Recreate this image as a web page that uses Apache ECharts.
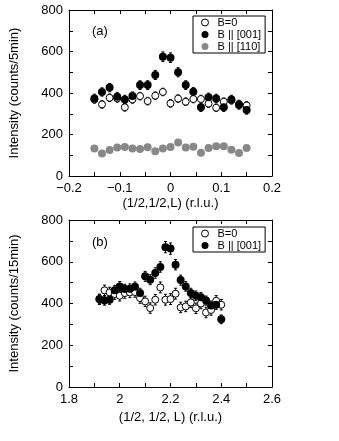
<!DOCTYPE html>
<html><head><meta charset="utf-8">
<script src="https://cdn.jsdelivr.net/npm/echarts@6/dist/echarts.min.js"></script>
<style>html,body{margin:0;padding:0;background:#fff}#c{width:339px;height:441px}</style>
</head><body><div id="c"></div>
<script>
// Panel (a)
var xA = [-0.15,-0.135,-0.12,-0.105,-0.09,-0.075,-0.06,-0.045,-0.03,-0.015,0,0.015,0.03,0.045,0.06,0.075,0.09,0.105,0.12,0.135,0.15];
var a_B0 = [369,345,377,374,331,369,385,361,387,405,350,373,358,371,371,349,329,358,365,347,340];
var a_B0_err = [18,18,18,18,18,18,18,18,18,18,18,18,18,18,18,18,18,18,18,18,18];
var a_B001 = [374,405,426,382,369,385,438,438,487,575,570,500,438,406,331,379,374,331,369,342,318];
var a_B001_err = [20,20,20,20,20,20,21,21,22,23,23,22,21,20,20,20,20,20,20,20,20];
var a_B110 = [133,109,125,137,140,133,130,138,119,133,140,161,137,141,112,135,143,143,127,111,135];
// Panel (b)
var xB = [1.92,1.94,1.96,1.98,2.00,2.02,2.04,2.06,2.08,2.10,2.12,2.14,2.16,2.18,2.20,2.22,2.24,2.26,2.28,2.30,2.32,2.34,2.36,2.38,2.40];
var b_B0 = [420,463,453,445,437,450,453,455,426,410,378,418,477,418,421,447,381,386,405,377,400,357,369,413,394];
var b_B0_err = [25,25,25,25,25,25,25,25,25,25,25,25,26,26,26,26,25,25,25,25,25,25,25,25,25];
var b_B001 = [421,414,418,464,482,469,471,480,450,530,514,546,575,670,663,586,512,482,450,437,430,414,390,394,324];
var b_B001_err = [22,22,22,23,23,23,23,23,23,24,24,25,25,27,27,25,24,23,23,23,23,22,22,22,21];

function zip(xs, ys, es){ return xs.map(function(x,i){ return es ? [x, ys[i], es[i]] : [x, ys[i]]; }); }

function errSeries(xi, yi, data){
  return {
    type:'custom', xAxisIndex:xi, yAxisIndex:yi, silent:true, z:2,
    renderItem:function(params, api){
      var x = api.value(0), y = api.value(1), e = api.value(2);
      var p1 = api.coord([x, y - e]), p2 = api.coord([x, y + e]);
      var c = 1.5;
      return {type:'group', children:[
        {type:'line', shape:{x1:p1[0],y1:p1[1],x2:p2[0],y2:p2[1]}, style:{stroke:'#000',lineWidth:1}},
        {type:'line', shape:{x1:p1[0]-c,y1:p1[1],x2:p1[0]+c,y2:p1[1]}, style:{stroke:'#000',lineWidth:1}},
        {type:'line', shape:{x1:p2[0]-c,y1:p2[1],x2:p2[0]+c,y2:p2[1]}, style:{stroke:'#000',lineWidth:1}}
      ]};
    },
    data:data
  };
}

var font = 'Liberation Sans, Arial, Helvetica, sans-serif';
function xAxisDef(gi, min, max, interval, pos, showLabel, name, fmt, gap){
  return {
    type:'value', gridIndex:gi, position:pos, min:min, max:max, interval:interval,
    axisLine:{show:true, onZero:false, lineStyle:{color:'#000', width:1}},
    axisTick:{show:true, inside:true, length:4, lineStyle:{color:'#000'}},
    minorTick:{show:true, splitNumber:2, length:4, lineStyle:{color:'#000'}},
    splitLine:{show:false},
    axisLabel:{show:showLabel, color:'#000', fontSize:13, fontFamily:font, margin:6, formatter:fmt},
    name: name || '', nameLocation:'middle', nameGap:gap || 21,
    nameTextStyle:{color:'#000', fontSize:13, fontFamily:font}
  };
}
function yAxisDef(gi, pos, showLabel, name){
  return {
    type:'value', gridIndex:gi, position:pos, min:0, max:800, interval:200,
    axisLine:{show:true, onZero:false, lineStyle:{color:'#000', width:1}},
    axisTick:{show:true, inside:true, length:4, lineStyle:{color:'#000'}},
    minorTick:{show:true, splitNumber:2, length:4, lineStyle:{color:'#000'}},
    splitLine:{show:false},
    axisLabel:{show:showLabel, color:'#000', fontSize:13, fontFamily:font, margin:6},
    name: name || '', nameLocation:'middle', nameGap:48, nameRotate:90,
    nameTextStyle:{color:'#000', fontSize:13, fontFamily:font}
  };
}
var fmtA = function(v){ var r = Math.round(v*100)/100; if (Math.abs(Math.round(r*10) - r*10) > 1e-6) return ''; return (r<0?'\u2212':'') + Math.abs(r).toString(); };
var fmtB = function(v){ var r = Math.round(v*10)/10; return r.toString(); };

var openStyle = {color:'#fff', borderColor:'#000', borderWidth:1, opacity:1};
var legendText = {fontSize:11, fontFamily:font, color:'#000', padding:[0,0,0,4], lineHeight:11};

var chart = echarts.init(document.getElementById('c'), null, {renderer:'canvas'});
chart.setOption({
  animation:false,
  backgroundColor:'#fff',
  grid:[
    {left:67, top:10, width:205, height:166},
    {left:67, top:220, width:205, height:167}
  ],
  xAxis:[
    xAxisDef(0, -0.2, 0.2, 0.1, 'bottom', true, '(1/2,1/2,L) (r.l.u.)', fmtA, 21),
    xAxisDef(0, -0.2, 0.2, 0.1, 'top', false),
    xAxisDef(1, 1.8, 2.6, 0.2, 'bottom', true, '(1/2, 1/2, L) (r.l.u.)', fmtB, 24),
    xAxisDef(1, 1.8, 2.6, 0.2, 'top', false)
  ],
  yAxis:[
    yAxisDef(0, 'left', true, 'Intensity (counts/5min)'),
    yAxisDef(0, 'right', false),
    yAxisDef(1, 'left', true, 'Intensity (counts/15min)'),
    yAxisDef(1, 'right', false)
  ],
  legend:[
    {left:193, top:16, orient:'vertical', padding:[1,4,1,8], itemGap:1, itemWidth:7, itemHeight:7,
     borderColor:'#000', borderWidth:1, borderRadius:0, icon:'circle', textStyle:legendText,
     data:[{name:'B=0', itemStyle:{color:'#fff', borderColor:'#000', borderWidth:1}}, {name:'B || [001]'}, {name:'B || [110]'}]},
    {left:193, top:227, orient:'vertical', padding:[1,4,1,8], itemGap:1, itemWidth:7, itemHeight:7,
     borderColor:'#000', borderWidth:1, borderRadius:0, icon:'circle', textStyle:legendText,
     data:[{name:'B=0', itemStyle:{color:'#fff', borderColor:'#000', borderWidth:1}}, {name:'B || [001]'}]}
  ],
  graphic:[
    {type:'text', left:92, top:25, style:{text:'(a)', fontSize:13, fontFamily:font, fill:'#000'}},
    {type:'text', left:92, top:236, style:{text:'(b)', fontSize:13, fontFamily:font, fill:'#000'}}
  ],
  series:[
    errSeries(0,0, zip(xA, a_B0, a_B0_err)),
    {name:'B=0', type:'scatter', xAxisIndex:0, yAxisIndex:0, symbol:'circle', symbolSize:7, z:5,
     itemStyle:openStyle, data:zip(xA, a_B0)},
    errSeries(0,0, zip(xA, a_B001, a_B001_err)),
    {name:'B || [001]', type:'scatter', xAxisIndex:0, yAxisIndex:0, symbol:'circle', symbolSize:8, z:6,
     itemStyle:{color:'#000', opacity:1}, data:zip(xA, a_B001)},
    {name:'B || [110]', type:'scatter', xAxisIndex:0, yAxisIndex:0, symbol:'circle', symbolSize:8, z:6,
     itemStyle:{color:'#888', opacity:1}, data:zip(xA, a_B110)},
    errSeries(2,2, zip(xB, b_B0, b_B0_err)),
    {name:'B=0', type:'scatter', xAxisIndex:2, yAxisIndex:2, symbol:'circle', symbolSize:7, z:5,
     itemStyle:openStyle, data:zip(xB, b_B0)},
    errSeries(2,2, zip(xB, b_B001, b_B001_err)),
    {name:'B || [001]', type:'scatter', xAxisIndex:2, yAxisIndex:2, symbol:'circle', symbolSize:8, z:6,
     itemStyle:{color:'#000', opacity:1}, data:zip(xB, b_B001)}
  ]
});
</script></body></html>
